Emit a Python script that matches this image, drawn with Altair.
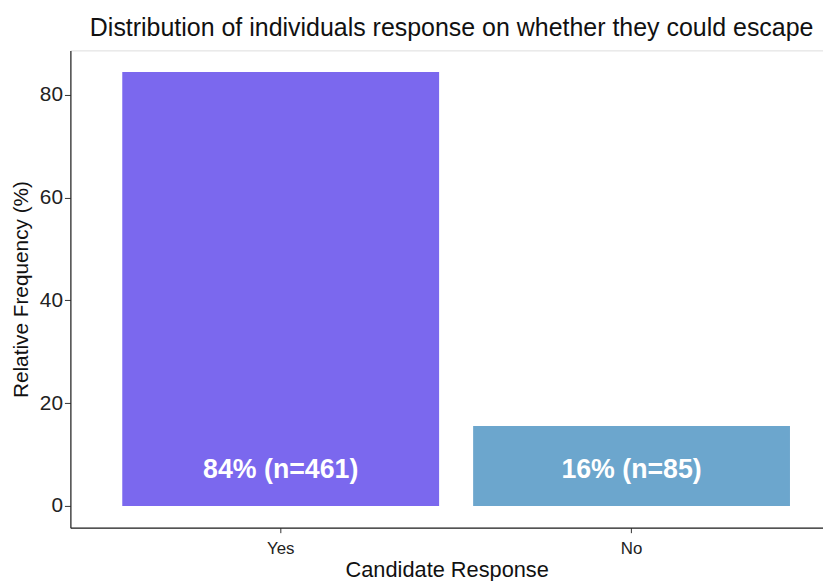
import altair as alt
import pandas as pd

categories = ["Yes", "No"]
counts = [461, 85]
percent = [84.43, 15.57]
labels = ["84% (n=461)", "16% (n=85)"]
colors = ["#7B68EE", "#6CA6CD"]

df = pd.DataFrame({
    "response": categories,
    "pct": percent,
    "n": counts,
    "label": labels,
})
df["label_y"] = min(percent) / 2 - 0.7

FONT = "Liberation Sans"

x = alt.X(
    "response:N",
    sort=categories,
    title="Candidate Response",
    scale=alt.Scale(paddingInner=0.097, paddingOuter=0.121, align=0.611),
    axis=alt.Axis(
        labelAngle=0, labelFontSize=17, labelFont=FONT, labelColor="#222222",
        labelPadding=8, tickSize=5, tickColor="#333333", tickWidth=1,
        titleFontSize=22, titleFont=FONT, titleFontWeight="normal",
        titleColor="#111111", titlePadding=3,
        domainColor="#222222", domainWidth=1.2, grid=False,
    ),
)

y_scale = alt.Scale(domain=[-4.22, 88.65], nice=False, zero=False)

base = alt.Chart(df).encode(x=x)

bars = base.mark_bar().encode(
    y=alt.Y(
        "pct:Q",
        scale=y_scale,
        title="Relative Frequency (%)",
        axis=alt.Axis(
            values=[0, 20, 40, 60, 80], labelFontSize=21, labelFont=FONT,
            labelColor="#222222", labelPadding=2, tickSize=6,
            tickColor="#333333", tickWidth=1,
            titleFontSize=21, titleFont=FONT, titleFontWeight="normal",
            titleColor="#111111", titlePadding=8,
            domainColor="#222222", domainWidth=1.2, grid=False,
        ),
    ),
    y2=alt.datum(0),
    color=alt.Color("response:N", scale=alt.Scale(domain=categories, range=colors), legend=None),
)

text = base.mark_text(
    color="white", fontWeight="bold", fontSize=27, font=FONT, baseline="middle"
).encode(
    y=alt.Y("label_y:Q", scale=y_scale),
    text="label:N",
)

chart = alt.layer(bars, text).properties(
    width=760,
    height=482,
    title=alt.TitleParams(
        "Distribution of individuals response on whether they could escape",
        fontSize=25.2, font=FONT, fontWeight="normal", color="#111111",
        anchor="middle", dx=5, offset=9,
    ),
    autosize=alt.AutoSizeParams(type="none"),
    padding={"left": 63, "top": 40, "right": 0, "bottom": 51},
).configure_view(stroke=None).configure(background="white")

chart.save("out.html", embed_options={"renderer": "svg", "actions": False})
